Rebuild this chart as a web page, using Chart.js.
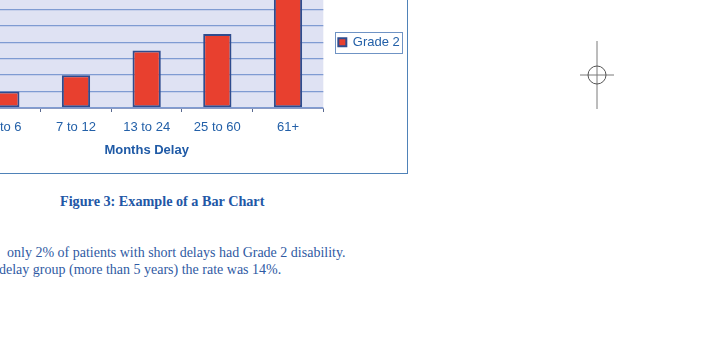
<!DOCTYPE html>
<html>
<head>
<meta charset="utf-8">
<script src="https://cdn.jsdelivr.net/npm/chart.js@4.4.0/dist/chart.umd.min.js"></script>
<style>
  html, body { margin:0; padding:0; background:#fff; width:720px; height:362px; overflow:hidden; position:relative; }
  #frame { position:absolute; left:-100px; top:-60px; width:508px; height:234px; box-sizing:border-box; border:1px solid #4f82b8; pointer-events:none; z-index:2; }
  #wrap { position:absolute; left:-99px; top:-59px; width:520px; height:232px; z-index:1; }
  #caption { position:absolute; left:60px; top:193px; font-family:"Liberation Serif", "Times New Roman", serif; font-weight:bold; font-size:14.2px; color:#2257a6; white-space:nowrap; line-height:17px; }
  .body { position:absolute; font-family:"Liberation Serif", "Times New Roman", serif; font-size:14px; color:#2f5aa3; white-space:nowrap; line-height:17px; }
  #mark { position:absolute; left:570px; top:35px; }
</style>
</head>
<body>
<div id="wrap"><canvas id="c" width="520" height="232"></canvas></div>
<div id="frame"></div>
<div id="caption">Figure 3: Example of a Bar Chart</div>
<div class="body" style="left:7px; top:244px;">only 2% of patients with short delays had Grade 2 disability.</div>
<div class="body" style="left:-1px; top:261px;">delay group (more than 5 years) the rate was 14%.</div>
<svg id="mark" width="60" height="80" viewBox="0 0 60 80">
  <line x1="27" y1="6" x2="27" y2="74" stroke="#7a7a7a" stroke-width="1"/>
  <line x1="10" y1="40" x2="44" y2="40" stroke="#7a7a7a" stroke-width="1"/>
  <circle cx="27" cy="40" r="9" fill="none" stroke="#555" stroke-width="1"/>
</svg>
<script>
const categories = ["0 to 6", "7 to 12", "13 to 24", "25 to 60", "61+"];
const grade2 = [2, 4, 7, 9, 14];
const seriesName = "Grade 2";
const xTitle = "Months Delay";
const yMin = 0, yMax = 16, yStep = 2;

const plotBg = {
  id: 'plotBg',
  beforeDraw(chart) {
    const {ctx, chartArea: a} = chart;
    ctx.save();
    ctx.fillStyle = '#dfe2f3';
    ctx.fillRect(a.left, a.top, a.right - a.left, a.bottom - a.top);
    ctx.restore();
  }
};
const legendBorder = {
  id: 'legendBorder',
  afterDraw(chart) {
    const lg = chart.legend;
    if (!lg || !lg.legendHitBoxes || !lg.legendHitBoxes.length) return;
    const h = lg.legendHitBoxes[0];
    const ctx = chart.ctx;
    ctx.save();
    ctx.strokeStyle = '#6f93c4';
    ctx.lineWidth = 1;
    const cy = h.top + h.height / 2;
    ctx.strokeRect(Math.round(h.left - 3) + 0.5, Math.round(cy - 10) + 0.5, Math.round(h.width + 6), 21);
    ctx.restore();
  }
};

new Chart(document.getElementById('c'), {
  type: 'bar',
  data: {
    labels: categories,
    datasets: [{
      label: seriesName,
      data: grade2,
      backgroundColor: '#e8402f',
      borderColor: '#2f4c8e',
      borderWidth: 2,
      borderSkipped: false,
      barPercentage: 0.4,
      categoryPercentage: 1.0
    }]
  },
  options: {
    responsive: false,
    animation: false,
    devicePixelRatio: 1,
    layout: { padding: { left: 0, top: 35.5, right: 11.2, bottom: 0 } },
    plugins: {
      legend: {
        display: true,
        position: 'right',
        fullSize: false,
        align: 'center',
        labels: {
          boxWidth: 8, boxHeight: 8, padding: 15,
          color: '#2360a8',
          font: { family: 'Liberation Sans, Arial, sans-serif', size: 13 }
        }
      },
      tooltip: { enabled: false }
    },
    scales: {
      x: {
        afterFit(s) { s.height = 65; },
        grid: { display: true, drawOnChartArea: false, drawTicks: true, tickLength: 4, offset: true, color: '#5a6a90' },
        border: { display: true, color: '#8a9ac4', width: 1 },
        ticks: { color: '#2360a8', padding: 8, font: { family: 'Liberation Sans, Arial, sans-serif', size: 13 } },
        title: { display: true, text: xTitle, color: '#1f5aa6', padding: { top: 4, bottom: 15 },
                 font: { family: 'Liberation Sans, Arial, sans-serif', size: 13, weight: 'bold' } }
      },
      y: {
        min: yMin, max: yMax,
        afterFit(s) { s.width = 69; },
        grid: { color: '#7f9bd2', lineWidth: 1.3, drawTicks: false },
        border: { display: true, color: '#8a9ac4' },
        ticks: { stepSize: yStep, autoSkip: false, color: '#2360a8', callback: v => v + '%', font: { family: 'Liberation Sans, Arial, sans-serif', size: 10 } }
      }
    }
  },
  plugins: [plotBg, legendBorder]
});
</script>
</body>
</html>
